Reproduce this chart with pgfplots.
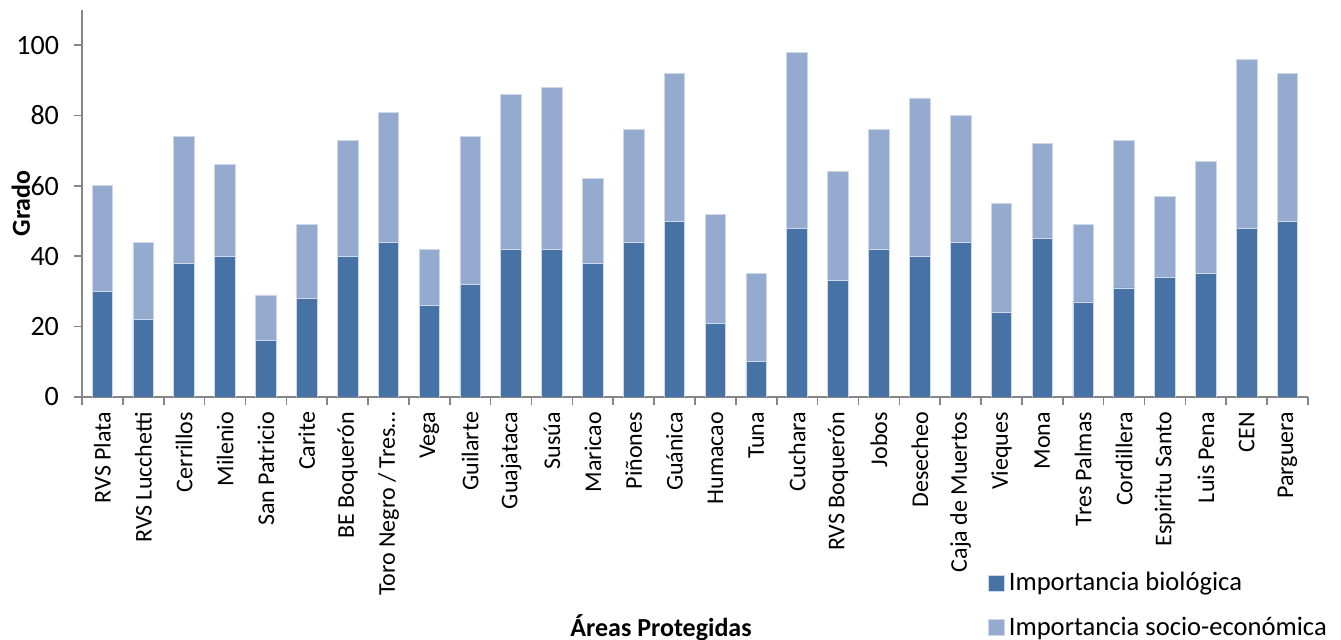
\documentclass[border=0pt]{standalone}
\usepackage{pgfplots}
\pgfplotsset{compat=1.18}
\usepackage{pgfplotstable}
\usepackage{fontspec}
\setmainfont{Carlito}

\definecolor{bio}{RGB}{70,114,166}
\definecolor{socio}{RGB}{149,170,207}
\definecolor{edge}{RGB}{205,215,232}
\definecolor{axisgray}{RGB}{134,134,134}

% Grado por área protegida: importancia biológica y socio-económica
\pgfplotstableread{
idx bio socio
0  30 30
1  22 22
2  38 36
3  40 26
4  16 13
5  28 21
6  40 33
7  44 37
8  26 16
9  32 42
10 42 44
11 42 46
12 38 24
13 44 32
14 50 42
15 21 31
16 10 25
17 48 50
18 33 31
19 42 34
20 40 45
21 44 36
22 24 31
23 45 27
24 27 22
25 31 42
26 34 23
27 35 32
28 48 48
29 50 42
}\datatable

\begin{document}
\begin{tikzpicture}
\begin{axis}[
  at={(41pt,121.5pt)}, anchor=south west,
  scale only axis, width=613pt, height=193.5pt,
  ybar stacked, bar width=10.3pt,
  xmin=-0.5, xmax=29.5, ymin=0, ymax=110,
  axis lines*=left,
  axis line style={axisgray, line width=0.8pt},
  every tick/.style={axisgray, line width=0.8pt},
  tick align=outside,
  major tick length=4pt,
  ytick={0,20,...,100},
  % tick marks between the categories
  xtick={-0.5,0.5,...,29.5},
  xticklabels={},
  % category names at the bar centres, without marks
  extra x ticks={0,...,29},
  extra x tick style={major tick length=0pt},
  extra x tick labels={RVS Plata, RVS Lucchetti, Cerrillos, Milenio, San Patricio, Carite,
    BE Boquerón, Toro Negro / Tres…, Vega, Guilarte, Guajataca, Susúa, Maricao,
    Piñones, Guánica, Humacao, Tuna, Cuchara, RVS Boquerón, Jobos, Desecheo,
    Caja de Muertos, Vieques, Mona, Tres Palmas, Cordillera, Espiritu Santo,
    Luis Pena, CEN, Parguera},
  x tick label style={rotate=90, anchor=east, font=\fontsize{12}{14}\selectfont},
  xticklabel shift=4pt,
  y tick label style={font=\fontsize{14}{16}\selectfont},
  yticklabel shift=4pt,
  /pgf/number format/assume math mode=true,
  ylabel={\textbf{Grado}},
  ylabel style={at={(axis description cs:-0.0498,0.5)}, anchor=center, font=\fontsize{13}{15}\selectfont},
  xlabel={\textbf{Áreas Protegidas}},
  xlabel style={at={(axis description cs:0.4723,-0.619)}, anchor=base, font=\fontsize{13}{15}\selectfont},
  legend style={at={(axis description cs:0.739,-0.442)}, anchor=north west,
    draw=none, fill=none, inner sep=0pt, row sep=7.5pt,
    font=\fontsize{13.3}{15}\selectfont},
  legend cell align=left,
  legend image code/.code={\fill[#1] (0pt,-3.9pt) rectangle (7.8pt,3.9pt);},
]
\addplot[fill=bio, draw=edge, line width=0.4pt] table[x=idx, y=bio] {\datatable};
\addplot[fill=socio, draw=edge, line width=0.4pt] table[x=idx, y=socio] {\datatable};
\legend{Importancia biológica, Importancia socio-económica}
\end{axis}
\pgfresetboundingbox
\path (0pt,0pt) rectangle (670.5pt,320pt);
\end{tikzpicture}
\end{document}
